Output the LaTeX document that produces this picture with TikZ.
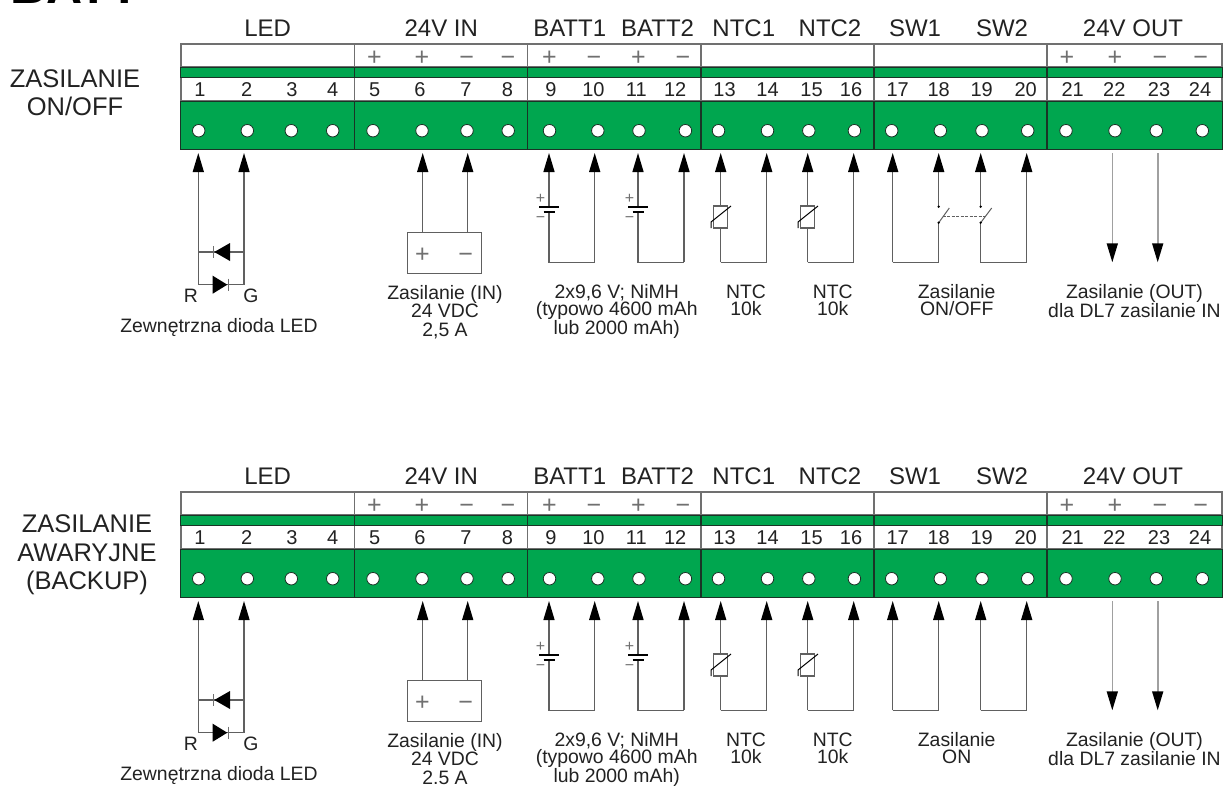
\documentclass[tikz,border=0pt]{standalone}
\usepackage{fontspec}
\setmainfont{Liberation Sans}
\usetikzlibrary{arrows.meta}
\definecolor{pcbgreen}{HTML}{00A64F}
\definecolor{pcbdark}{HTML}{1A3326}
\definecolor{frameg}{HTML}{707070}
\definecolor{inkc}{HTML}{222222}
\definecolor{wirec}{HTML}{606060}
\definecolor{wirel}{HTML}{A0A0A0}
\newcommand{\lineA}{\rule{0pt}{15pt}}
\newcommand{\lineB}{\rule{0pt}{20pt}}
\tikzset{
  wire/.style={draw=wirec,line width=1.4pt},
  outwire/.style={draw=wirel,line width=1.6pt},
  tiparrow/.style={-{Triangle[length=19pt,width=11pt,color=black]}},
  txt/.style={inner sep=0pt,outer sep=0pt,text=inkc},
  head/.style={txt,anchor=base,font=\fontsize{24}{24}\selectfont},
  numb/.style={txt,anchor=base,font=\fontsize{20}{20}\selectfont},
  pol/.style={inner sep=0pt,outer sep=0pt,text=frameg,anchor=base,font=\fontsize{25}{25}\selectfont},
  smallpol/.style={inner sep=0pt,outer sep=0pt,text=frameg,anchor=base,font=\fontsize{16}{16}\selectfont},
  capt/.style={txt,anchor=north,align=center,font=\fontsize{19.4}{17.5}\selectfont},
  capb/.style={txt,anchor=north,align=center,font=\fontsize{19.4}{18.5}\selectfont},
  bigcap/.style={txt,anchor=north,align=center,font=\fontsize{25.5}{28.5}\selectfont},
  hole/.style={circle,draw=pcbdark,fill=white,line width=0.8pt,minimum size=12.5pt,inner sep=0pt},
  whiterow/.style={draw=frameg,fill=white,line width=1.2pt},
  greenrow/.style={draw=pcbdark,fill=pcbgreen,line width=1pt},
  divtop/.style={draw=frameg,line width=1.2pt},
  divlow/.style={draw=pcbdark,line width=1.4pt},
  plate/.style={draw=black,line width=1.3pt},
  thinbar/.style={draw=frameg,line width=1pt},
  diode/.style={fill=black,draw=none},
  dotc/.style={circle,fill=black,inner sep=0pt,minimum size=2.6pt},
  ntcbox/.style={draw=wirec,fill=white,line width=1.2pt},
  psubox/.style={draw=wirec,fill=white,line width=1.3pt}
}
\newcommand{\termrow}[1]{%
  % terminal strip
  \path[whiterow] (181,44) rectangle (1222,67);
  \path[whiterow] (181,77) rectangle (1222,101);
  \foreach \dx in {354.4,527.5,700.9,874,1047}{
    \path[divtop] (\dx,44) -- (\dx,101);
  }
  \path[greenrow] (180.5,67) rectangle (1222,77);
  \path[greenrow] (180.5,101) rectangle (1222,149);
  \foreach \dx in {354.4,527.5,700.9,874,1047}{
    \path[divlow] (\dx,67) -- (\dx,77);
    \path[divlow] (\dx,101) -- (\dx,149);
  }
  % group headings
  \foreach \nm/\hx/\tx in {hl/267.7/LED,hi/441.3/24V IN,hb/569.7/BATT1,hc/657.6/BATT2,hd/743.8/NTC1,he/830/NTC2,hf/915/SW1,hg/1002/SW2,hh/1133/24V OUT}{
    \node[head] (\nm) at (\hx,36.2) {\tx};
  }
  % holes and numbers
  \foreach \i/\hx/\nx in {1/198.7/200,2/247.3/246.7,3/291.3/292,4/332.7/332.7,5/373/374.7,6/422/420,7/467/466,8/508.2/507.5,9/549.5/551,10/597.8/593.4,11/639/636.3,12/685.4/675.2,13/718.5/724.6,14/767.5/767.5,15/808.8/811.5,16/854.4/851,17/891.7/897.7,18/940.3/938.7,19/982/981.7,20/1027.7/1025.7,21/1066/1072.7,22/1115/1114.3,23/1156.3/1159,24/1202.3/1200}{
    \node[hole] (h\i) at (\hx,130.7) {};
    \node[numb] (n\i) at (\nx,96.7) {\i};
  }
  % polarity marks
  \foreach \i/\x/\s in {5/374.3/+,6/422/+,7/466.6/−,8/507.9/−,9/549.5/+,10/594/−,11/638.4/+,12/683/−,21/1067/+,22/1115/+,23/1160/−,24/1200.7/−}{
    \node[pol] (p\i) at (\x,65) {\s};
  }
  % arrow and wire anchor points
  \foreach \i/\x in {1/198.3,2/244,6/422.7,7/467.7,9/549,10/594.7,11/638,12/684,13/720.7,14/766.7,15/807.7,16/853.7,17/892.7,18/938.7,19/980.7,20/1026.7,22/1112.3,23/1157.7}{
    \coordinate (a\i) at (\x,153);
  }
  \foreach \i/\x in {9/549,10/594.7,11/638,12/684,13/720.7,14/766.7,15/807.7,16/853.7,17/892.7,18/938.7,19/980.7,20/1026.7,22/1112.3,23/1157.7}{
    \coordinate (b\i) at (\x,262.3);
  }
  % LED
  \coordinate (r) at (198.3,284.7);
  \coordinate (g) at (244,284.7);
  \coordinate (r2) at (198.3,252);
  \coordinate (g2) at (244,252);
  \draw[wire] (r) -- (g);
  \draw[wire] (r2) -- (g2);
  \draw[wire,tiparrow] (r) -- (a1);
  \draw[wire,tiparrow] (g) -- (a2);
  \path[diode] (214.3,252) -- (230,243) -- (230,261) -- cycle;
  \path[thinbar] (213.3,246) -- (213.3,258);
  \path[diode] (227.3,284.7) -- (212.7,275.7) -- (212.7,293.7) -- cycle;
  \path[thinbar] (228.7,278.7) -- (228.7,290.7);
  \node[txt,anchor=base,font=\fontsize{19.4}{19}\selectfont] (ledr) at (191,302) {R};
  \node[txt,anchor=base,font=\fontsize{19.4}{19}\selectfont] (ledg) at (251,302) {G};
  \node[txt,anchor=base,font=\fontsize{19.4}{19}\selectfont] (ledc) at (219,332.5) {Zewnętrzna dioda LED};
  % supply box
  \node[psubox,minimum width=74pt,minimum height=41pt,inner sep=0pt] (psu) at (444.7,253.2) {};
  \coordinate (pp) at (422.7,232.7);
  \coordinate (pm) at (467.7,232.7);
  \draw[wire,tiparrow] (pp) -- (a6);
  \draw[wire,tiparrow] (pm) -- (a7);
  \node[pol] (psup) at (422.3,262) {+};
  \node[pol] (psum) at (465.7,262) {−};
  \node[capb] (psut) at (445,284.3) {\lineA Zasilanie (IN)\\24 VDC\\#1};
  % batteries
  \foreach \i/\j/\x in {9/10/549,11/12/638}{
    \coordinate (bt\i) at (\x,207);
    \coordinate (bu\i) at (\x,212);
    \draw[wire,tiparrow] (bt\i) -- (a\i);
    \draw[wire,tiparrow] (b\j) -- (a\j);
    \draw[wire] (bu\i) -- (b\i) -- (b\j);
    \path[plate] (\x-10,207) -- (\x+10,207);
    \path[plate,line width=2pt] (\x-5.5,212) -- (\x+5.5,212);
    \node[smallpol] (bp\i) at (\x-8.5,203) {+};
    \node[smallpol] (bm\i) at (\x-8.5,222.3) {−};
  }
  \node[capt] (batt) at (616.7,283.3) {\lineA 2x9,6 V; NiMH\\(typowo 4600 mAh\\lub 2000 mAh)};
  % thermistors
  \foreach \i/\j/\x in {13/14/720.7,15/16/807.7}{
    \draw[wire,tiparrow] (b\i) -- (a\i);
    \draw[wire,tiparrow] (b\j) -- (a\j);
    \draw[wire] (b\i) -- (b\j);
    \path[ntcbox] (\x-7,206) rectangle (\x+7,228);
    \draw[draw=black,line width=1pt] (\x-9.7,228) -- (\x-9.7,222) -- (\x+10.3,206);
  }
  \node[capt] (ntca) at (746,283.3) {\lineA NTC\\10k};
  \node[capt] (ntcb) at (832.7,283.3) {\lineA NTC\\10k};
  % outputs
  \coordinate (o22) at (1112.3,153);
  \coordinate (o23) at (1157.7,153);
  \draw[outwire,tiparrow] (o22) -- (b22);
  \draw[outwire,tiparrow] (o23) -- (b23);
  \node[capt] (outt) at (1134.5,283.3) {\lineA Zasilanie (OUT)\\dla DL7 zasilanie IN};
}
\begin{document}
\begin{tikzpicture}[x=1pt,y=-1pt]
  \useasboundingbox (0,0) rectangle (1223,785);
  \clip (0,0) rectangle (1223,785);
  \fill[white] (0,0) rectangle (1223,785);
  \node[txt,anchor=base,font=\fontsize{50}{50}\selectfont\bfseries,text=black] (title) at (75,3) {BATT};
  \node[bigcap] (capone) at (75,67.3) {\lineB ZASILANIE\\ON/OFF};
  \node[bigcap] (captwo) at (87,512.7) {\lineB ZASILANIE\\AWARYJNE\\(BACKUP)};
  \begin{scope}[name prefix=one-]
    \termrow{2,5 A}
    % switches
    \coordinate (s1a) at (938.7,206.7);
    \coordinate (s1b) at (938.7,222.7);
    \coordinate (s2a) at (980.7,206.7);
    \coordinate (s2b) at (980.7,222.7);
    \coordinate (s1t) at (949.3,208);
    \coordinate (s2t) at (991.7,208);
    \coordinate (l1) at (942.7,216);
    \coordinate (l2) at (985,216);
    \draw[wire,tiparrow] (b17) -- (a17);
    \draw[wire] (b17) -- (b18) -- (s1b);
    \draw[wire,tiparrow] (s1a) -- (a18);
    \draw[wire,tiparrow] (s2a) -- (a19);
    \draw[wire] (s2b) -- (b19) -- (b20);
    \draw[wire,tiparrow] (b20) -- (a20);
    \draw[wire,line width=1pt] (s1b) -- (s1t);
    \draw[wire,line width=1pt] (s2b) -- (s2t);
    \draw[wire,line width=1pt,dash pattern=on 3pt off 1.5pt] (l1) -- (l2);
    \node[dotc] (d1) at (s1a) {};
    \node[dotc] (d2) at (s1b) {};
    \node[dotc] (d3) at (s2a) {};
    \node[dotc] (d4) at (s2b) {};
    \node[capt] (swc) at (956.7,283.3) {\lineA Zasilanie\\ON/OFF};
  \end{scope}
  \begin{scope}[yshift=-448pt,name prefix=two-]
    \termrow{2.5 A}
    \draw[wire,tiparrow] (b17) -- (a17);
    \draw[wire] (b17) -- (b18);
    \draw[wire,tiparrow] (b18) -- (a18);
    \draw[wire,tiparrow] (b19) -- (a19);
    \draw[wire] (b19) -- (b20);
    \draw[wire,tiparrow] (b20) -- (a20);
    \node[capt] (swc) at (956.7,283.3) {\lineA Zasilanie\\ON};
  \end{scope}
\end{tikzpicture}
\end{document}
